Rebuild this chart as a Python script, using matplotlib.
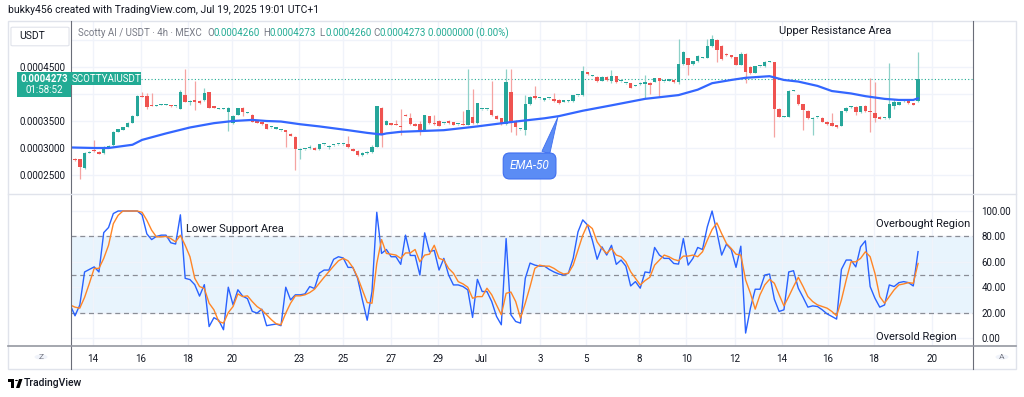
import numpy as np
import matplotlib.pyplot as plt
from matplotlib.patches import Rectangle, FancyBboxPatch, Circle, Polygon
from matplotlib.lines import Line2D

plt.rcParams['font.family'] = ['Roboto', 'DejaVu Sans']

# ---- data (prices in units of 1e-4 USDT) ----
o = [2.80, 2.79, 2.63, 2.91, 2.95, 2.93, 2.90, 3.01, 3.05, 3.30, 3.34, 3.39,
     3.47, 3.60, 3.97, 3.96, 3.80, 3.78, 3.80, 3.80, 3.79, 3.77, 3.73, 3.98,
     3.85, 3.87, 3.87, 3.88, 4.03, 3.77, 3.73, 3.73, 3.67, 3.46, 3.62, 3.75,
     3.65, 3.62, 3.51, 3.48, 3.44, 3.38, 3.36, 3.33, 3.33, 3.26, 3.21, 2.96,
     2.98, 3.00, 3.00, 2.98, 3.07, 3.02, 3.05, 3.07, 3.07, 3.07, 2.99, 2.95,
     2.87, 2.90, 2.92, 3.02, 3.75, 3.43, 3.46, 3.45, 3.41, 3.62, 3.56, 3.45,
     3.45, 3.33, 3.59, 3.46, 3.50, 3.46, 3.50, 3.48, 3.44, 3.45, 3.43, 3.58,
     3.46, 3.72, 3.72, 3.70, 3.60, 3.55, 3.44, 4.04, 3.50, 3.35, 3.33, 3.81,
     3.97, 3.92, 3.88, 3.92, 3.91, 3.89, 3.86, 3.87, 3.87, 3.98, 3.98, 4.40,
     4.34, 4.32, 4.25, 4.32, 4.24, 4.33, 4.24, 4.20, 4.20, 4.15, 4.18, 4.19,
     4.21, 4.23, 4.29, 4.24, 4.25, 4.26, 4.22, 4.55, 4.66, 4.55, 4.61, 4.67,
     4.67, 4.88, 5.00, 4.89, 4.75, 4.72, 4.68, 4.54, 4.75, 4.50, 4.39, 4.51,
     4.51, 4.60, 4.59, 3.73, 3.58, 3.58, 4.06, 3.99, 3.81, 3.69, 3.54, 3.57,
     3.56, 3.49, 3.47, 3.42, 3.41, 3.68, 3.76, 3.75, 3.66, 3.78, 3.68, 3.64,
     3.58, 3.55, 3.55, 3.77, 3.80, 3.87, 3.87, 3.83, 3.87]
h = [2.81, 2.80, 2.92, 2.94, 3.15, 2.94, 3.03, 3.05, 3.31, 3.36, 3.39, 3.48,
     3.61, 3.98, 4.03, 4.01, 4.02, 3.80, 3.81, 3.81, 3.80, 3.78, 4.08, 4.46,
     3.88, 4.24, 3.88, 4.11, 4.04, 3.78, 3.74, 3.74, 3.76, 3.61, 3.75, 3.76,
     3.66, 3.63, 3.52, 3.49, 3.45, 3.39, 3.37, 3.34, 3.34, 3.27, 3.22, 3.00,
     2.99, 3.05, 3.01, 3.08, 3.08, 3.05, 3.06, 3.08, 3.08, 3.23, 3.00, 2.96,
     2.92, 2.94, 3.06, 3.78, 3.76, 3.52, 3.47, 3.52, 3.73, 3.63, 3.65, 3.47,
     3.50, 3.62, 3.60, 3.62, 3.51, 3.47, 3.51, 3.49, 3.45, 3.69, 4.46, 4.10,
     3.84, 3.73, 3.73, 4.24, 3.61, 3.56, 4.46, 4.46, 3.51, 3.36, 3.98, 3.96,
     4.14, 3.93, 3.93, 3.93, 4.01, 3.90, 3.87, 3.88, 3.99, 3.99, 4.51, 4.41,
     4.35, 4.33, 4.33, 4.33, 4.45, 4.34, 4.25, 4.21, 4.21, 4.16, 4.22, 4.36,
     4.22, 4.30, 4.30, 4.25, 4.26, 4.27, 5.02, 4.79, 4.67, 4.62, 4.72, 4.68,
     5.02, 5.09, 5.01, 4.90, 4.76, 4.73, 4.69, 4.77, 4.76, 4.51, 4.52, 4.52,
     4.61, 4.61, 4.60, 3.74, 3.59, 4.07, 4.07, 4.00, 3.82, 3.70, 3.57, 3.58,
     3.57, 3.50, 3.64, 3.43, 3.69, 3.76, 3.77, 3.78, 3.78, 3.79, 4.30, 4.23,
     3.59, 3.56, 4.57, 3.90, 3.86, 3.88, 3.88, 3.84, 4.78]
l = [2.76, 2.43, 2.62, 2.90, 2.93, 2.88, 2.89, 3.00, 3.04, 3.29, 3.33, 3.38,
     3.46, 3.59, 3.94, 3.73, 3.77, 3.78, 3.79, 3.79, 3.76, 3.76, 3.72, 3.85,
     3.80, 3.70, 3.82, 3.87, 3.74, 3.74, 3.72, 3.72, 3.31, 3.45, 3.61, 3.60,
     3.64, 3.48, 3.46, 3.43, 3.35, 3.37, 3.35, 3.32, 3.01, 3.22, 2.59, 2.80,
     2.97, 2.99, 2.96, 2.97, 3.06, 2.98, 3.04, 3.06, 3.06, 3.00, 2.94, 2.86,
     2.86, 2.89, 2.91, 3.01, 3.02, 3.42, 3.42, 3.42, 3.24, 3.59, 3.42, 3.40,
     3.24, 3.32, 3.45, 3.43, 3.40, 3.45, 3.45, 3.42, 3.43, 3.42, 3.42, 3.45,
     3.45, 3.71, 3.71, 3.60, 3.53, 3.43, 3.43, 3.30, 3.24, 3.34, 3.24, 3.80,
     3.91, 3.91, 3.87, 3.91, 3.86, 3.82, 3.85, 3.86, 3.86, 3.97, 3.97, 4.36,
     4.33, 4.22, 4.24, 4.25, 4.20, 4.21, 4.23, 4.19, 4.11, 4.14, 4.17, 3.92,
     4.00, 4.22, 3.97, 4.23, 4.24, 4.21, 4.18, 4.54, 4.35, 4.54, 4.60, 4.66,
     4.66, 4.87, 4.60, 4.63, 4.71, 4.67, 4.53, 4.53, 4.20, 4.37, 4.38, 4.50,
     4.50, 4.59, 3.21, 3.57, 3.57, 3.57, 4.05, 3.80, 3.33, 3.54, 3.24, 3.56,
     3.48, 3.43, 3.40, 3.37, 3.40, 3.67, 3.75, 3.62, 3.65, 3.67, 3.30, 3.49,
     3.53, 3.54, 3.54, 3.72, 3.79, 3.86, 3.82, 3.79, 3.86]
c = [2.77, 2.65, 2.91, 2.93, 2.94, 2.89, 3.02, 3.04, 3.30, 3.35, 3.38, 3.47,
     3.60, 3.97, 3.95, 3.76, 3.78, 3.80, 3.80, 3.80, 3.77, 3.77, 4.03, 3.86,
     3.87, 3.86, 3.83, 4.01, 3.75, 3.75, 3.73, 3.73, 3.75, 3.60, 3.74, 3.67,
     3.65, 3.49, 3.47, 3.44, 3.36, 3.38, 3.36, 3.33, 3.29, 3.23, 2.98, 2.99,
     2.98, 3.01, 2.97, 3.07, 3.07, 3.04, 3.05, 3.07, 3.07, 3.01, 2.95, 2.87,
     2.91, 2.93, 3.01, 3.77, 3.25, 3.50, 3.43, 3.43, 3.38, 3.60, 3.44, 3.41,
     3.29, 3.61, 3.46, 3.45, 3.41, 3.46, 3.46, 3.43, 3.44, 3.43, 3.70, 3.46,
     3.83, 3.72, 3.72, 3.61, 3.54, 3.44, 4.22, 3.46, 3.38, 3.35, 3.81, 3.95,
     3.92, 3.92, 3.92, 3.92, 3.87, 3.83, 3.86, 3.87, 3.98, 3.98, 4.43, 4.37,
     4.34, 4.25, 4.32, 4.26, 4.34, 4.22, 4.24, 4.20, 4.12, 4.15, 4.21, 4.22,
     4.17, 4.29, 4.24, 4.24, 4.25, 4.22, 4.55, 4.78, 4.53, 4.61, 4.71, 4.67,
     4.89, 5.02, 4.82, 4.64, 4.72, 4.68, 4.54, 4.75, 4.40, 4.38, 4.51, 4.51,
     4.60, 4.60, 3.73, 3.58, 3.58, 4.06, 4.06, 3.81, 3.70, 3.55, 3.56, 3.57,
     3.49, 3.44, 3.41, 3.38, 3.68, 3.75, 3.76, 3.66, 3.77, 3.68, 3.66, 3.56,
     3.54, 3.55, 3.81, 3.85, 3.85, 3.87, 3.83, 3.80, 4.273]

# EMA-50 (bar index, value)
ema_bar = [-1, 4, 7, 12, 14, 19, 24, 29, 33, 37, 40, 43, 47, 51, 54, 57, 61,
           64, 65, 68, 77, 84, 91, 98, 101, 106, 112, 119, 126, 130, 133, 137,
           140, 145, 148, 151, 155, 158, 162, 165, 169, 172, 175, 176]
ema_val = [3.01, 3.00, 3.00, 3.06, 3.15, 3.27, 3.38, 3.46, 3.50, 3.52, 3.50,
           3.49, 3.44, 3.40, 3.365, 3.33, 3.28, 3.25, 3.27, 3.30, 3.33, 3.40,
           3.48, 3.55, 3.59, 3.69, 3.79, 3.91, 3.98, 4.08, 4.20, 4.26, 4.30,
           4.33, 4.26, 4.23, 4.15, 4.055, 4.01, 3.96, 3.91, 3.89, 3.89, 3.92]

# Stochastic, bars -1 .. 176
stoch_k = [26, 17.5, 26, 52, 54, 56, 52, 83, 87, 98, 100, 100, 100, 100, 100,
           97, 82, 77.5, 80, 81, 81, 75, 74, 97, 47, 46, 42, 33, 42, 9, 16, 14,
           6.5, 40, 26, 38, 33, 31, 21, 19.6, 22.7, 9.7, 10.4, 11, 9.7, 40, 30,
           34, 34, 34.7, 40.5, 39, 51, 53.5, 53.5, 62, 64, 63, 55.6, 55.6, 47,
           30, 14, 36.5, 99, 66.6, 69.7, 64, 64, 58, 81, 65, 65, 49.6, 82.8, 68,
           69, 53.5, 62.7, 49.6, 41.8, 41.8, 40.5, 37.9, 16.2, 46.2, 36.6, 36.6,
           28.7, 17, 10.4, 78.3, 18.3, 13, 11.7, 47, 59, 57.4, 56.6, 56.6, 54,
           52, 50.4, 49.6, 51, 62.7, 83.5, 93, 89, 77, 62, 71.8, 65.3, 73, 58,
           61.4, 56.6, 41, 44.4, 39.2, 52, 51.4, 71.3, 65.3, 62.7, 62.7, 58.7,
           58.2, 78.3, 57.4, 62.7, 71.3, 69.7, 87.5, 100, 83.5, 65.3, 73.9, 69.7,
           55.6, 72.3, 3.9, 23.5, 38.4, 38.4, 49.6, 50.4, 30.5, 20.9, 22.2, 52,
           53, 39.2, 32, 24.3, 25.3, 24.8, 22.2, 19, 17, 14.9, 54, 61.4, 61.4,
           56, 71.8, 76.5, 40.5, 31.3, 24.3, 26, 41.8, 40.5, 43.6, 44.4, 43.6,
           41, 68]
stoch_d = [26, 24.3, 23.5, 32, 43, 54.8, 54.8, 62.7, 73, 90, 96.6, 100, 100,
           100, 100, 99, 92.7, 84.9, 79.6, 79.6, 80, 78.3, 75.7, 80.9, 73, 64,
           47, 40.5, 39, 27.4, 22.2, 13, 11.7, 20, 24.8, 34.7, 32.6, 33.2, 28.7,
           24.8, 22.2, 18.3, 14.4, 11.2, 10.4, 19.6, 27.4, 33.2, 33.2, 34, 35.8,
           38.4, 43.1, 47.8, 52.2, 56.7, 60.8, 62.7, 60.8, 55.6, 47.8, 37.9,
           27.9, 27.4, 58.7, 77.5, 66.6, 66, 65.3, 62.7, 67, 67, 69.7, 60, 65.3,
           66, 73, 62.7, 61.4, 54.8, 51, 44.4, 42.6, 40, 31.3, 32.6, 32.6, 39.2,
           34, 26, 18.3, 35.2, 36.2, 28.7, 15.7, 27.4, 40.5, 54.8, 57.4, 56.6,
           56.6, 54.8, 52.2, 50.4, 51, 57.4, 69.2, 80.9, 89.3, 86.2, 75.7, 70.5,
           66.6, 70.5, 65.3, 64, 60, 52.2, 47, 41.8, 45.2, 47.8, 57.4, 61.4,
           65.3, 64, 61.9, 60.8, 64.5, 64.5, 65.3, 64, 67.9, 77, 85.4, 90.6,
           82.2, 74.4, 70.5, 66, 65.3, 45.7, 35.2, 22.7, 34, 41.8, 46.2, 43.1,
           34, 25.3, 32.6, 40.5, 47.8, 40.5, 32.6, 28.7, 26.1, 24.8, 23.5, 20.9,
           17.5, 30, 45.7, 60, 60, 62.7, 67.9, 64, 50.9, 32.6, 27.4, 32.6, 37.9,
           41.8, 42.6, 43.6, 43.1, 58.7]

date_labels = ['14', '16', '18', '20', '23', '25', '27', '29', 'Jul', '3', '5',
               '8', '10', '12', '14', '16', '18', '20']
date_bars = [3.8, 13.8, 23.6, 32.8, 46.8, 55.9, 66.0, 75.8, 84.8, 97.1, 106.7,
             117.7, 127.6, 137.8, 147.6, 157.2, 166.8, 178.9]

price_ticks = [2.5, 3.0, 3.5, 4.0, 4.5, 5.0]
# 0.0004000 and 0.0005000 sit under the price label / USDT button
price_tick_labels = ['0.0002500', '0.0003000', '0.0003500', '', '0.0004500', '']
osc_ticks = [0, 20, 40, 60, 80, 100]

GREEN = '#26a69a'
RED = '#ef5350'
TEAL = '#22ab94'
TXT = '#131722'
GRID = '#f0f3fa'

W, H = 1024, 397
fig = plt.figure(figsize=(W / 100, H / 100), dpi=100)


def fx(px):
    return px / W


def fy(py):
    return 1 - py / H


ax = fig.add_axes([fx(71), fy(194), fx(973) - fx(71), fy(21) - fy(194)])
ax2 = fig.add_axes([fx(71), fy(346), fx(973) - fx(71), fy(194) - fy(346)],
                   sharex=ax)

# ---- candles ----
o = np.array(o); h = np.array(h); l = np.array(l); c = np.array(c)
x = np.arange(len(o))
up = c >= o
wick_col = np.where(up, '#8fd1c8', '#f5a3a1')
body_col = np.where(up, GREEN, RED)
ax.vlines(x, l, h, colors=wick_col, lw=0.9, zorder=2)
ax.bar(x, np.maximum(np.abs(c - o), 0.02), bottom=np.minimum(o, c),
       width=0.72, color=body_col, zorder=2.5, linewidth=0)
ax.plot(ema_bar, ema_val, color='#3366ff', lw=1.6, zorder=3,
        solid_capstyle='round')
ax.axhline(c[-1], color=TEAL, lw=0.8, ls=(0, (1, 2)), zorder=1.5)

ax.set_xlim(-0.835, 187.47)
ax.set_ylim(2.148, 5.352)
ax.set_yticks(price_ticks)
ax.set_yticklabels(price_tick_labels)
ax.set_xticks(date_bars)
ax.tick_params(axis='y', length=0, pad=4, labelsize=7, labelcolor=TXT)
ax.tick_params(axis='x', length=0, labelbottom=False)
ax.grid(color=GRID, lw=1)
ax.set_axisbelow(True)
for s in ax.spines.values():
    s.set_visible(False)

ax.annotate('EMA-50', xy=(100.8, 3.57), xytext=(94.9, 2.667),
            ha='center', va='center', color='white', fontsize=8.5,
            style='italic', zorder=5,
            bbox=dict(boxstyle='round,pad=0.55', fc='#5b8cf5', ec='#3f6ff0',
                      lw=0.8),
            arrowprops=dict(arrowstyle='wedge,tail_width=0.7', fc='#5b8cf5',
                            ec='#3f6ff0', lw=0.6, relpos=(0.85, 1.0),
                            shrinkA=0, shrinkB=0))

# ---- stochastic ----
sx = np.arange(-1, len(stoch_k) - 1)
ax2.axhspan(20, 80, color='#2196f3', alpha=0.1, lw=0, zorder=0.5)
for v in (80, 50, 20):
    ax2.axhline(v, color='#8a8d96', lw=0.9, ls=(0, (4, 3)), zorder=1)
ax2.plot(sx, stoch_k, color='#2962ff', lw=1.0, zorder=3)
ax2.plot(sx, stoch_d, color='#ff8526', lw=1.0, zorder=3)
ax2.set_ylim(-6.3, 113.4)
ax2.set_yticks(osc_ticks)
ax2.set_yticklabels(['%.2f' % v for v in osc_ticks])
ax2.yaxis.tick_right()
ax2.tick_params(axis='y', length=0, pad=6, labelsize=7, labelcolor=TXT)
ax2.set_xticks(date_bars)
ax2.set_xticklabels(date_labels)
ax2.tick_params(axis='x', length=0, pad=6, labelsize=7, labelcolor=TXT)
ax2.grid(color=GRID, lw=1)
ax2.set_axisbelow(True)
for s in ax2.spines.values():
    s.set_visible(False)

# ---- frame, separators ----
fig.add_artist(Rectangle((fx(8), fy(369)), fx(1016) - fx(8), fy(21) - fy(369),
                         fill=False, ec='#e0e3eb', lw=1,
                         transform=fig.transFigure))
for px in (71, 973):
    fig.add_artist(Line2D([fx(px)] * 2, [fy(21), fy(369)], color='#6a6d78',
                          lw=0.8, transform=fig.transFigure))
fig.add_artist(Line2D([fx(8), fx(1016)], [fy(194)] * 2, color='#e0e3eb',
                      lw=1, transform=fig.transFigure))
fig.add_artist(Line2D([fx(8), fx(1016)], [fy(346)] * 2, color='#9598a1',
                      lw=1.2, transform=fig.transFigure))

# ---- texts ----
fig.text(fx(8), fy(10), 'bukky456 created with TradingView.com, Jul 19, 2025 19:01 UTC+1',
         fontsize=7.5, color=TXT, va='center')

fig.add_artist(FancyBboxPatch((fx(13), fy(45)), fx(54), fy(0) - fy(17),
                              boxstyle='round,pad=0.002', fc='white',
                              ec='#e0e3eb', lw=0.8, transform=fig.transFigure))
fig.text(fx(19), fy(36), 'USDT', fontsize=7.5, color=TXT, va='center')

legend = [('Scotty AI / USDT · 4h · MEXC', 78, '#787b86'),
          ('O', 207, '#787b86'), ('0.0004260', 213, TEAL),
          ('H', 263, '#787b86'), ('0.0004273', 269, TEAL),
          ('L', 319, '#787b86'), ('0.0004260', 325, TEAL),
          ('C', 373, '#787b86'), ('0.0004273', 379, TEAL),
          ('0.0000000 (0.00%)', 428, TEAL)]
for s, px, col in legend:
    fig.text(fx(px), fy(33), s, fontsize=7, color=col, va='center')

fig.add_artist(Rectangle((fx(17), fy(97)), fx(54), fy(0) - fy(25), fc=TEAL,
                         ec='none', transform=fig.transFigure, zorder=4))
fig.add_artist(Rectangle((fx(71), fy(85)), fx(70), fy(0) - fy(13), fc=TEAL,
                         ec='none', transform=fig.transFigure, zorder=4))
fig.text(fx(44), fy(78.5), '0.0004273', fontsize=7, color='white', ha='center',
         va='center', weight='bold', zorder=5)
fig.text(fx(44), fy(90), '01:58:52', fontsize=7, color='white', ha='center',
         va='center', zorder=5)
fig.text(fx(106), fy(78.5), 'SCOTTYAIUSDT', fontsize=7, color='white',
         ha='center', va='center', zorder=5)

fig.text(fx(835), fy(31), 'Upper Resistance Area', fontsize=8, color=TXT,
         ha='center', va='center')
fig.text(fx(186), fy(229), 'Lower Support Area', fontsize=8, color=TXT,
         va='center')
fig.text(fx(876), fy(224), 'Overbought Region', fontsize=8, color=TXT,
         va='center')
fig.text(fx(876), fy(337.5), 'Oversold Region', fontsize=8, color=TXT,
         va='center')

for px, s in ((41, 'Z'), (1002, 'A')):
    fig.add_artist(Circle((fx(px), fy(357)), 6.5 / W, fc='#f0f3fa', ec='none',
                          transform=fig.transFigure))
    fig.text(fx(px), fy(357), s, fontsize=6, color='#787b86', ha='center',
             va='center')

# TradingView logo + name
fig.add_artist(Rectangle((fx(8), fy(382)), fx(6), fy(0) - fy(3), fc='black',
                         ec='none', transform=fig.transFigure))
fig.add_artist(Rectangle((fx(11), fy(388)), fx(3), fy(0) - fy(9), fc='black',
                         ec='none', transform=fig.transFigure))
fig.add_artist(Circle((fx(16.5), fy(380.5)), 1.5 / W, fc='black', ec='none',
                      transform=fig.transFigure))
fig.add_artist(Polygon([(fx(16), fy(388)), (fx(19), fy(379)), (fx(22.5), fy(379)),
                        (fx(19.5), fy(388))], closed=True, fc='black',
                       ec='none', transform=fig.transFigure))
fig.text(fx(24), fy(383.5), 'TradingView', fontsize=7.5, color=TXT,
         va='center', weight='medium')

fig.savefig('out.png', dpi=100, facecolor='white')
